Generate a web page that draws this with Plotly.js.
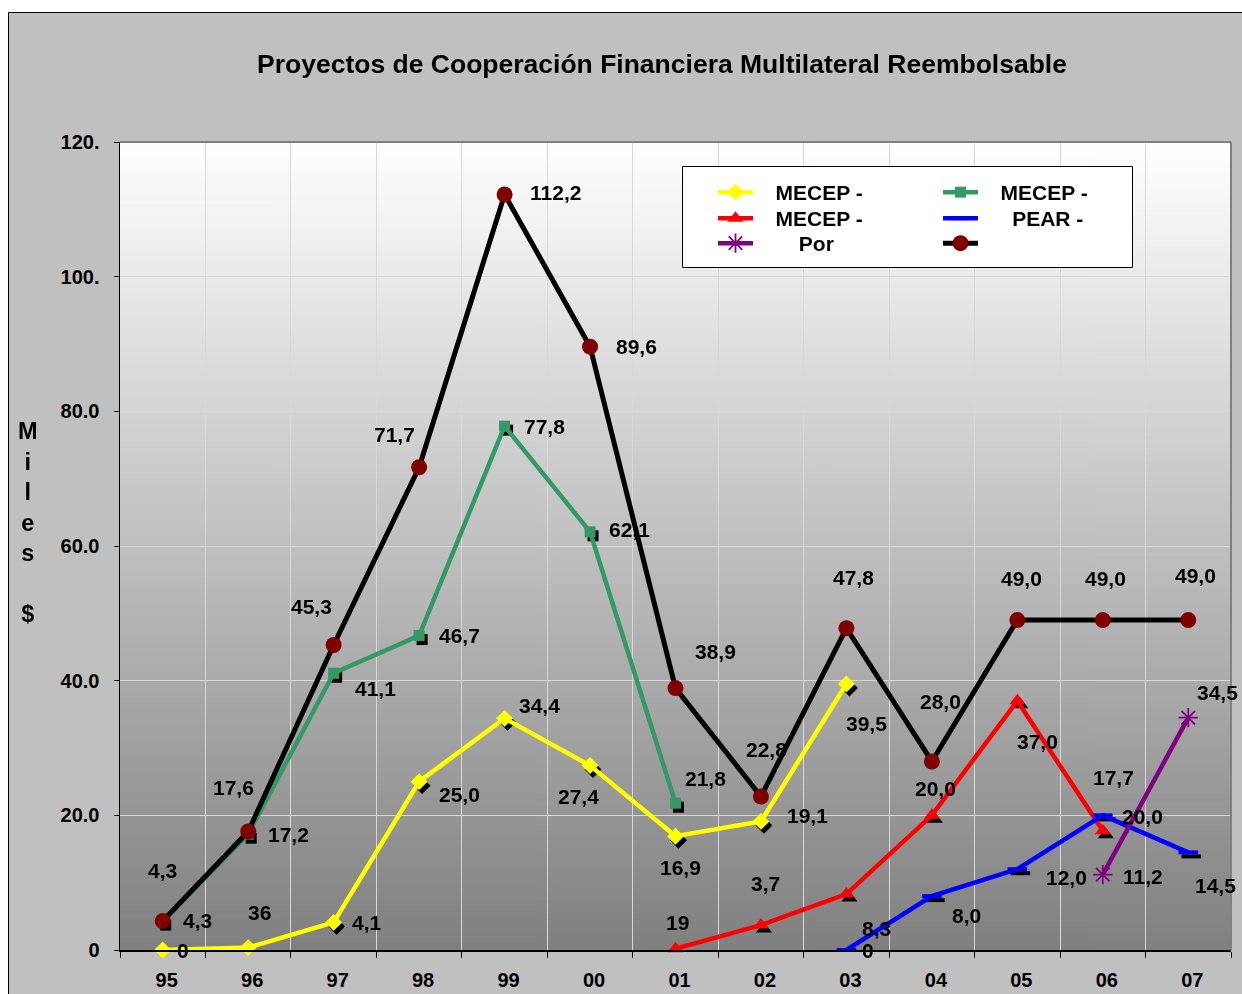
<!DOCTYPE html>
<html><head><meta charset="utf-8">
<script src="https://cdn.plot.ly/plotly-3.0.1.min.js"></script>
<style>html,body{margin:0;padding:0;background:#fff;} #chart{width:1242px;height:994px;}</style>
</head><body><div id="chart"></div>
<script>
// ---------- DATA ----------
const years = ['95','96','97','98','99','00','01','02','03','04','05','06','07'];
const yTickValues = [0, 20, 40, 60, 80, 100, 120];
const yTickLabels = ['0', '20.0', '40.0', '60.0', '80.0', '100.', '120.'];

const yellowName = 'MECEP -';
const yellowYears = ['95','96','97','98','99','00','01','02','03'];
const yellowValues = [0, 0.36, 4.1, 25.0, 34.4, 27.4, 16.9, 19.1, 39.5];
const yellowLabels = ['0','36','4,1','25,0','34,4','27,4','16,9','19,1','39,5'];

const greenName = 'MECEP -';
const greenYears = ['95','96','97','98','99','00','01'];
const greenValues = [4.3, 17.2, 41.1, 46.7, 77.8, 62.1, 21.8];
const greenLabels = ['4,3','17,2','41,1','46,7','77,8','62,1','21,8'];

const redName = 'MECEP -';
const redYears = ['01','02','03','04','05','06'];
const redValues = [0.19, 3.7, 8.3, 20.0, 37.0, 17.7];
const redLabels = ['19','3,7','8,3','20,0','37,0','17,7'];

const blueName = 'PEAR -';
const blueYears = ['03','04','05','06','07'];
const blueValues = [0, 8.0, 12.0, 20.0, 14.5];
const blueLabels = ['0','8,0','12,0','20,0','14,5'];

const purpleName = 'Por';
const purpleYears = ['06','07'];
const purpleValues = [11.2, 34.5];
const purpleLabels = ['11,2','34,5'];

const totalName = '';
const totalYears = years;
const totalValues = [4.3, 17.6, 45.3, 71.7, 112.2, 89.6, 38.9, 22.8, 47.8, 28.0, 49.0, 49.0, 49.0];
const totalLabels = ['4,3','17,6','45,3','71,7','112,2','89,6','38,9','22,8','47,8','28,0','49,0','49,0','49,0'];

const titleText = 'Proyectos de Cooperación Financiera Multilateral Reembolsable';
const yTitleText = 'M<br>i<br>l<br>e<br>s<br><br>$';

// ---------- STYLE / LABEL OFFSETS (pixels: dx right, dy down) ----------
const yellowOff = [[20,0],[11,-35],[33,0],[40,13],[35,-13],[-12,31],[5,31],[47,-6],[20,39]];
const greenOff  = [[35,-1],[40,0],[42,15],[40,0],[40,0],[39,-2],[30,-25]];
const redOff    = [[2,-26],[5,-42],[30,34],[4,-27],[20,41],[11,-53]];
const blueOff   = [[22,0],[35,19],[49,8],[40,1],[27,33]];
const purpleOff = [[40,2],[29,-25]];
const totalOff  = [[0,-51],[-15,-44],[-22,-38],[-25,-33],[51,-2],[46,0],[40,-37],[6,-47],[7,-51],[9,-60],[4,-42],[3,-42],[7,-45]];

// legend slots: [symbol left px, row centre px, name padding (nbsp count)]
const legendSlots = [[718,193,3],[943,193,3],[718,219,3],[943,219,5],[718,244,7],[943,244,3]];

const FONT = 'Liberation Sans, Arial, Helvetica, sans-serif';
const W = 1242, H = 994;
const M = {l: 120, r: 11, t: 142, b: 44};
const PW = W - M.l - M.r, PH = H - M.t - M.b;
const px2xp = p => (p - M.l) / PW;
const py2yp = p => (H - M.b - p) / PH;

const xRange = [-0.5, years.length - 0.5];
const yRange = [0, 120];
const shDx = 3, shDy = 4;
const dxu = shDx / (PW / years.length);
const dyu = shDy / (PH / (yRange[1] - yRange[0]));

// gradient plot background
const cv = document.createElement('canvas'); cv.width = 4; cv.height = 512;
const ctx = cv.getContext('2d');
const grad = ctx.createLinearGradient(0, 0, 0, 512);
grad.addColorStop(0, '#ffffff'); grad.addColorStop(1, '#808080');
ctx.fillStyle = grad; ctx.fillRect(0, 0, 4, 512);
const gradURL = cv.toDataURL('image/png');

const series = [
  {name: yellowName, x: yellowYears, y: yellowValues, labels: yellowLabels, off: yellowOff,
   line: {color: '#ffff00', width: 4.5}, marker: {symbol: 'diamond', size: 13, color: '#ffff00'}, shadow: true},
  {name: greenName, x: greenYears, y: greenValues, labels: greenLabels, off: greenOff,
   line: {color: '#339966', width: 4.5}, marker: {symbol: 'square', size: 11, color: '#339966'}, shadow: true},
  {name: redName, x: redYears, y: redValues, labels: redLabels, off: redOff,
   line: {color: '#ff0000', width: 4.5}, marker: {symbol: 'triangle-up', size: 14, color: '#ff0000'}, shadow: true},
  {name: blueName, x: blueYears, y: blueValues, labels: blueLabels, off: blueOff,
   line: {color: '#0000ff', width: 4.5}, marker: {symbol: 'line-ew', size: 14, color: '#0000ff', line: {color: '#0000ff', width: 4}}, shadow: true},
  {name: purpleName, x: purpleYears, y: purpleValues, labels: purpleLabels, off: purpleOff,
   line: {color: '#800080', width: 4.5}, marker: {symbol: 'asterisk-open', size: 16, color: '#800080', line: {color: '#800080', width: 1.8}}, shadow: false},
  {name: totalName, x: totalYears, y: totalValues, labels: totalLabels, off: totalOff,
   line: {color: '#000000', width: 5}, marker: {symbol: 'circle', size: 16, color: '#800000'}, shadow: false}
];

const traces = [];
traces.push({x: totalYears, y: totalValues, type: 'scatter', mode: 'markers', opacity: 0,
  showlegend: false, hoverinfo: 'skip', xaxis: 'x', yaxis: 'y', marker: {size: 1}});
series.forEach(s => {
  if (!s.shadow) return;
  const mk = JSON.parse(JSON.stringify(s.marker));
  mk.color = '#000000';
  if (mk.line) mk.line.color = '#000000';
  traces.push({x: s.x, y: s.y, type: 'scatter', mode: 'markers', marker: mk, showlegend: false,
    hoverinfo: 'skip', xaxis: 'x2', yaxis: 'y2', cliponaxis: false});
});
const legendFont = {family: FONT, size: 21, color: '#000', weight: 'bold'};
const legends = {};
series.forEach((s, k) => {
  const id = k === 0 ? 'legend' : 'legend' + (k + 1);
  const slot = legendSlots[k];
  legends[id] = {x: px2xp(slot[0] - 5), y: py2yp(slot[1] - 21), xanchor: 'left', yanchor: 'top',
    orientation: 'v', bgcolor: 'rgba(0,0,0,0)', borderwidth: 0, itemwidth: 35, font: legendFont};
  traces.push({x: s.x, y: s.y, name: '\u00A0'.repeat(slot[2]) + s.name, type: 'scatter', mode: 'lines+markers',
    line: s.line, marker: s.marker, xaxis: 'x3', yaxis: 'y3', cliponaxis: false, legend: id, showlegend: true});
});

const labelFont = {family: FONT, size: 21, color: '#000000', weight: 'bold'};
const annotations = [];
series.forEach(s => {
  s.x.forEach((xv, i) => {
    annotations.push({xref: 'x3', yref: 'y3', x: years.indexOf(xv), y: s.y[i], text: s.labels[i],
      xshift: s.off[i][0], yshift: -s.off[i][1], showarrow: false,
      xanchor: 'center', yanchor: 'middle', font: labelFont});
  });
});
annotations.push({xref: 'paper', yref: 'paper', x: px2xp(28), y: py2yp(522), text: yTitleText,
  showarrow: false, xanchor: 'center', yanchor: 'middle', align: 'center',
  font: {family: FONT, size: 23.5, color: '#000000', weight: 'bold'}});

const catAxis = {type: 'category', categoryorder: 'array', categoryarray: years};

const layout = Object.assign({
  width: W, height: H,
  margin: M,
  paper_bgcolor: '#c0c0c0',
  plot_bgcolor: 'rgba(0,0,0,0)',
  showlegend: true,
  title: {text: titleText, x: 662 / W, xref: 'container', xanchor: 'center',
    y: 1 - 64 / H, yref: 'container', yanchor: 'middle',
    font: {family: FONT, size: 26.5, color: '#000000', weight: 'bold'}},
  xaxis: Object.assign({}, catAxis, {range: xRange, tickson: 'boundaries', ticks: 'outside', ticklen: 6,
    tickcolor: '#000', tickwidth: 1, showline: true, linecolor: '#000', linewidth: 1.5,
    showgrid: true, gridcolor: '#d8d8d8', gridwidth: 1, zeroline: false,
    tickfont: {family: FONT, size: 20, color: '#000', weight: 'bold'},
    ticklabelstandoff: 11, ticklabelshift: 4, fixedrange: true}),
  yaxis: {range: yRange, tickmode: 'array', tickvals: yTickValues, ticktext: yTickLabels,
    ticks: 'outside', ticklen: 5, tickcolor: '#000', tickwidth: 1, showline: true, linecolor: '#000', linewidth: 1.5,
    showgrid: true, gridcolor: '#d8d8d8', gridwidth: 1, zeroline: false,
    tickfont: {family: FONT, size: 20, color: '#000', weight: 'bold'},
    ticklabelstandoff: 10, fixedrange: true},
  xaxis2: Object.assign({}, catAxis, {range: [xRange[0] - dxu, xRange[1] - dxu], overlaying: 'x', visible: false, fixedrange: true}),
  yaxis2: {range: [yRange[0] + dyu, yRange[1] + dyu], overlaying: 'y', visible: false, fixedrange: true},
  xaxis3: Object.assign({}, catAxis, {range: xRange, overlaying: 'x', visible: false, fixedrange: true}),
  yaxis3: {range: yRange, overlaying: 'y', visible: false, fixedrange: true},
  images: [{source: gradURL, xref: 'paper', yref: 'paper', x: 0, y: 1, sizex: 1, sizey: 1,
    sizing: 'stretch', xanchor: 'left', yanchor: 'top', layer: 'below'}],
  shapes: [
    {type: 'rect', xref: 'paper', yref: 'paper', x0: px2xp(-5), x1: px2xp(8), y0: py2yp(H + 5), y1: py2yp(-5),
      fillcolor: '#ffffff', line: {width: 0}, layer: 'below'},
    {type: 'rect', xref: 'paper', yref: 'paper', x0: px2xp(-5), x1: px2xp(W + 5), y0: py2yp(12), y1: py2yp(-5),
      fillcolor: '#ffffff', line: {width: 0}, layer: 'below'},
    {type: 'line', xref: 'paper', yref: 'paper', x0: px2xp(8.5), x1: px2xp(8.5), y0: py2yp(12.5), y1: py2yp(H + 5),
      line: {color: '#000', width: 1}, layer: 'above'},
    {type: 'line', xref: 'paper', yref: 'paper', x0: px2xp(8.5), x1: px2xp(W + 5), y0: py2yp(12.5), y1: py2yp(12.5),
      line: {color: '#000', width: 1}, layer: 'above'},
    {type: 'line', xref: 'paper', yref: 'paper', x0: 0, x1: 1, y0: 1, y1: 1, line: {color: '#808080', width: 2}, layer: 'above'},
    {type: 'line', xref: 'paper', yref: 'paper', x0: 1, x1: 1, y0: 0, y1: 1, line: {color: '#808080', width: 2}, layer: 'above'},
    // legend box
    {type: 'rect', xref: 'paper', yref: 'paper', x0: px2xp(682.5), x1: px2xp(1132.5), y0: py2yp(267.5), y1: py2yp(166.5),
      fillcolor: '#ffffff', line: {color: '#000', width: 1}, layer: 'above'}
  ],
  annotations: annotations
}, legends);

Plotly.newPlot('chart', traces, layout, {displayModeBar: false, staticPlot: true});
</script></body></html>
